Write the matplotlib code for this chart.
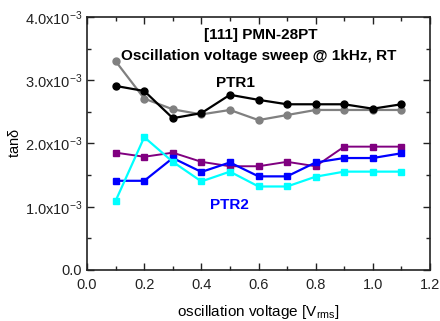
import matplotlib
matplotlib.use("Agg")
import matplotlib.pyplot as plt
from matplotlib.ticker import MultipleLocator, FixedLocator
import numpy as np

## Fonts
matplotlib.rcParams.update({'font.family': 'Liberation Sans', 'font.size': 10.5,
                            'mathtext.fontset': 'custom', 'mathtext.rm': 'Liberation Sans',
                            'mathtext.default': 'regular'})

## Data (tan delta in units of 1e-3)
voltage = [0.1, 0.2, 0.3, 0.4, 0.5, 0.6, 0.7, 0.8, 0.9, 1.0, 1.1]
ptr1_a = [2.91, 2.83, 2.40, 2.48, 2.77, 2.69, 2.62, 2.62, 2.62, 2.55, 2.62]
ptr1_b = [3.30, 2.71, 2.54, 2.46, 2.53, 2.37, 2.45, 2.53, 2.53, 2.53, 2.53]
ptr2_a = [1.41, 1.41, 1.77, 1.55, 1.70, 1.48, 1.48, 1.70, 1.77, 1.77, 1.845]
ptr2_b = [1.095, 2.10, 1.71, 1.40, 1.555, 1.32, 1.32, 1.475, 1.555, 1.555, 1.555]
ptr2_c = [1.855, 1.79, 1.855, 1.71, 1.64, 1.64, 1.71, 1.64, 1.95, 1.95, 1.95]

y_ticks = [0, 1.0, 2.0, 3.0, 4.0]
y_ticklabels = ['0.0'] + [r'%.1fx10$^{-3}$' % v for v in y_ticks[1:]]

## Figure
fig = plt.figure(figsize=(4.4, 3.21), dpi=100)
ax = fig.add_axes([0.198, 0.159, 0.779, 0.788])

def s(vals):
    return np.array(vals) * 1e-3

ax.plot(voltage, s(ptr1_b), color='#808080', marker='o', ms=5, lw=1.6)
ax.plot(voltage, s(ptr1_a), color='black', marker='o', ms=5, lw=1.6)
ax.plot(voltage, s(ptr2_c), color='#800080', marker='s', ms=4.5, lw=1.4)
ax.plot(voltage, s(ptr2_a), color='#0000ff', marker='s', ms=4.5, lw=1.6)
ax.plot(voltage, s(ptr2_b), color='#00ffff', marker='s', ms=4.5, lw=1.6)

ax.set_xlim(0, 1.2)
ax.set_ylim(0, 4e-3)
ax.xaxis.set_major_locator(MultipleLocator(0.2))
ax.xaxis.set_minor_locator(MultipleLocator(0.1))
ax.yaxis.set_major_locator(FixedLocator(s(y_ticks)))
ax.yaxis.set_minor_locator(MultipleLocator(0.5e-3))
ax.set_yticklabels(y_ticklabels)
ax.tick_params(which='both', direction='in', top=True, right=True, width=1,
               colors='#222222', labelsize=10.5)
ax.tick_params(which='major', length=5)
ax.tick_params(which='minor', length=3)
ax.tick_params(axis='x', pad=6)
for sp in ax.spines.values():
    sp.set_linewidth(1.2)
    sp.set_color('#222222')

ax.set_xlabel(r'oscillation voltage [V$_{rms}$]', fontsize=11, labelpad=8)
ax.set_ylabel(r'tan$\delta$', fontsize=10.5, labelpad=2)

ax.text(0.508, 0.955, '[111] PMN-28PT', transform=ax.transAxes, ha='center', va='top',
        fontweight='bold', fontsize=11)
ax.text(0.5, 0.875, 'Oscillation voltage sweep @ 1kHz, RT', transform=ax.transAxes,
        ha='center', va='top', fontweight='bold', fontsize=11)
ax.text(0.52, 2.95e-3, 'PTR1', ha='center', va='center', fontweight='bold', fontsize=11)
ax.text(0.5, 1.03e-3, 'PTR2', ha='center', va='center', fontweight='bold', fontsize=11,
        color='#0000ff')

fig.savefig('out.png', dpi=100)
